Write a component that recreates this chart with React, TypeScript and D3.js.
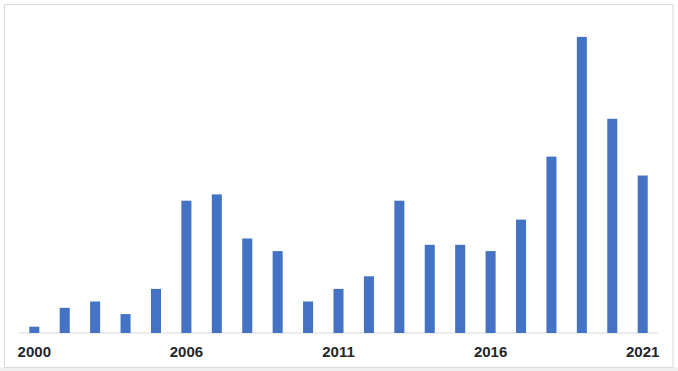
import React from "react";
import * as d3 from "d3";

const years: string[] = ["2000","2002","2003","2004","2005","2006","2007","2008","2009","2010","2011","2012","2013","2014","2015","2016","2017","2018","2019","2020","2021"];
const counts: number[] = [1,4,5,3,7,21,22,15,13,5,7,9,21,14,14,13,18,28,47,34,25];
const shownLabels: string[] = ["2000","2006","2011","2016","2021"];

const W = 678;
const H = 371;

export default function App() {
  const x = d3.scaleBand<string>().domain(years).range([19, 658]).paddingInner(0.67).paddingOuter(0.338);
  const y = d3.scaleLinear().domain([0, 50]).range([333, 18]);
  return (
    <svg width={W} height={H} style={{ position: "absolute", left: 0, top: 0 }}>
      <rect x={0} y={0} width={W} height={H} fill="#ffffff" />
      <rect x={0} y={367.5} width={W} height={4} fill="#efefef" />
      <rect x={4.5} y={4.5} width={668.5} height={363} fill="#ffffff" stroke="#d9d9d9" strokeWidth={1} />
      <line x1={19} x2={658} y1={333} y2={333} stroke="#d9d9d9" strokeWidth={1} />
      {years.map((yr, i) => (
        <rect key={yr} x={x(yr)} y={y(counts[i])} width={x.bandwidth()} height={y(0) - y(counts[i])} fill="#4472C4" />
      ))}
      {shownLabels.map((lbl) => (
        <text key={lbl} x={(x(lbl) ?? 0) + x.bandwidth() / 2} y={356.5} textAnchor="middle"
          fontFamily="Liberation Sans, Arial, sans-serif" fontWeight="bold" fontSize={15} fill="#262626">
          {lbl}
        </text>
      ))}
    </svg>
  );
}
